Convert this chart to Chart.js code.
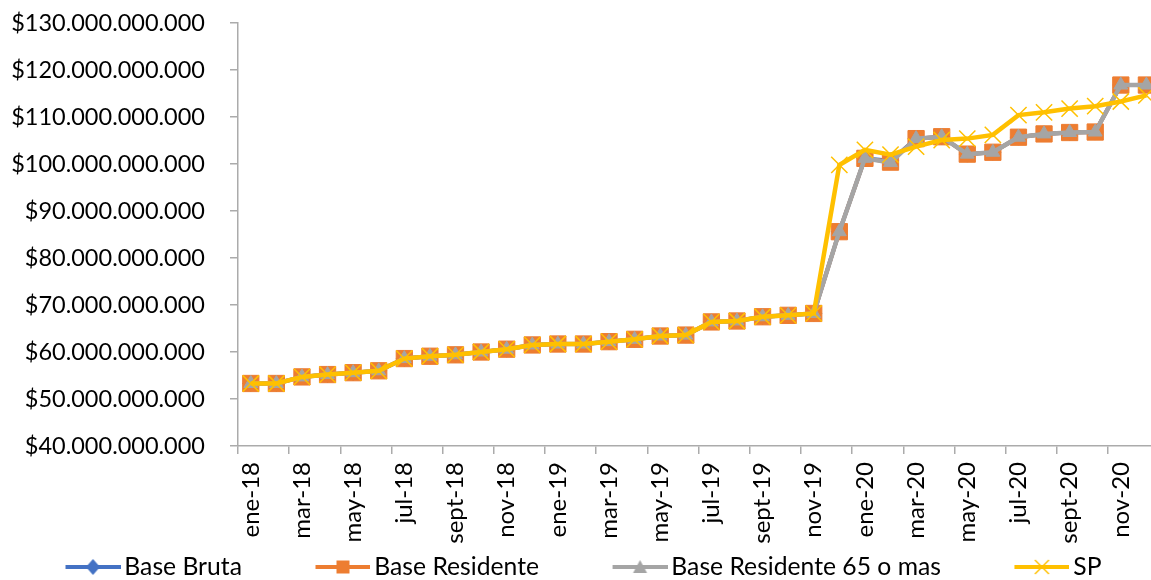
<!DOCTYPE html>
<html lang="es">
<head>
<meta charset="utf-8">
<title>Base Bruta / Base Residente / SP</title>
<script src="https://cdn.jsdelivr.net/npm/chart.js@4.4.1/dist/chart.umd.min.js"></script>
<style>
  html, body { margin: 0; padding: 0; background: #fff; overflow: hidden; }
  #wrap { width: 1151px; height: 580px; }
</style>
</head>
<body>
<div id="wrap"><canvas id="baseChart" width="1151" height="580"></canvas></div>
<script>
// meses del eje X (ene-18 a dic-20)
const MESES = [
    'ene-18', 'feb-18', 'mar-18', 'abr-18', 'may-18', 'jun-18', 'jul-18', 'ago-18', 'sept-18', 'oct-18', 'nov-18', 'dic-18',
    'ene-19', 'feb-19', 'mar-19', 'abr-19', 'may-19', 'jun-19', 'jul-19', 'ago-19', 'sept-19', 'oct-19', 'nov-19', 'dic-19',
    'ene-20', 'feb-20', 'mar-20', 'abr-20', 'may-20', 'jun-20', 'jul-20', 'ago-20', 'sept-20', 'oct-20', 'nov-20', 'dic-20'
];

// valores en miles de millones de pesos
const BASE_BRUTA = [
    53.3, 53.3, 54.7, 55.2, 55.6, 56.0, 58.6, 59.1, 59.4, 60.0, 60.6, 61.5,
    61.7, 61.7, 62.2, 62.7, 63.4, 63.6, 66.4, 66.6, 67.5, 67.8, 68.2, 85.6,
    101.2, 100.7, 105.4, 105.8, 102.1, 102.5, 105.7, 106.4, 106.7, 106.8, 116.8, 116.8
];
const BASE_RESIDENTE = [
    53.3, 53.3, 54.7, 55.2, 55.6, 56.0, 58.6, 59.1, 59.4, 60.0, 60.6, 61.5,
    61.7, 61.7, 62.2, 62.7, 63.4, 63.6, 66.4, 66.6, 67.5, 67.8, 68.2, 85.6,
    101.2, 100.4, 105.4, 105.8, 102.1, 102.5, 105.7, 106.4, 106.7, 106.8, 116.8, 116.8
];
const BASE_RES_65 = [
    53.3, 53.3, 54.7, 55.2, 55.6, 56.0, 58.6, 59.1, 59.4, 60.0, 60.6, 61.5,
    61.7, 61.7, 62.2, 62.7, 63.4, 63.6, 66.4, 66.6, 67.5, 67.8, 68.2, 85.6,
    101.2, 100.3, 105.4, 105.8, 102.1, 102.5, 105.7, 106.4, 106.7, 106.8, 116.8, 116.8
];
const SP = [
    53.3, 53.3, 54.7, 55.2, 55.6, 56.0, 58.6, 59.1, 59.4, 60.0, 60.6, 61.5,
    61.7, 61.7, 62.2, 62.7, 63.4, 63.6, 66.4, 66.6, 67.5, 67.8, 68.2, 99.8,
    103.0, 102.0, 103.7, 105.1, 105.4, 106.2, 110.4, 111.0, 111.8, 112.3, 113.3, 114.6
];

// eje Y (miles de millones)
const Y_MIN = 40;
const Y_MAX = 130;
const Y_PASO = 10;

const COLORES = ['#4472C4', '#ED7D31', '#A5A5A5', '#FFC000'];
const FUENTE = 'Lato';
const EJE_COLOR = '#ABABAB';

// $130.000.000.000
function formatoPesos(v) {
    return '$' + Math.round(v * 1e9).toString().replace(/\B(?=(\d{3})+(?!\d))/g, '.');
}

function puntos(serie) {
    return serie.map((v, i) => ({ x: i, y: v }));
}

// icono de leyenda: línea + marcador, como en Excel
function iconoLeyenda(color, estilo, ancho) {
    const c = document.createElement('canvas');
    c.width = ancho;
    c.height = 22;
    const g = c.getContext('2d');
    const x1 = ancho - 55, cx = ancho - 27.5, cy = 11;
    g.strokeStyle = color;
    g.fillStyle = color;
    g.lineWidth = 4;
    g.beginPath();
    g.moveTo(x1, cy);
    g.lineTo(ancho, cy);
    g.stroke();
    g.beginPath();
    if (estilo === 'rombo') {
        g.moveTo(cx, cy - 8); g.lineTo(cx + 7, cy); g.lineTo(cx, cy + 8); g.lineTo(cx - 7, cy);
        g.closePath(); g.fill();
    } else if (estilo === 'cuadro') {
        g.rect(cx - 6.5, cy - 6.5, 13, 13); g.fill();
    } else if (estilo === 'triangulo') {
        g.moveTo(cx, cy - 7); g.lineTo(cx + 7, cy + 6); g.lineTo(cx - 7, cy + 6);
        g.closePath(); g.fill();
    } else {
        g.lineWidth = 1.5;
        g.moveTo(cx - 7, cy - 7); g.lineTo(cx + 7, cy + 7);
        g.moveTo(cx + 7, cy - 7); g.lineTo(cx - 7, cy + 7);
        g.stroke();
    }
    return c;
}

// leyenda alineada a la izquierda (el lienzo empieza en -8 para que cuadre)
const IZQ = -8;
const LEY_FONT = 24.7;
const LEY_PAD = 24;
const ANCHO_CAJA = 96;
const LEY_ALTO = 13 + LEY_PAD + LEY_FONT / 2;
const ICONOS = COLORES.map((c, i) =>
    iconoLeyenda(c, ['rombo', 'cuadro', 'triangulo', 'x'][i], Math.round(ANCHO_CAJA + LEY_FONT - 8)));

// sin relleno extra por las etiquetas (Excel no lo deja)
function sinPadding(scale) {
    scale._calculatePadding = function () {
        this.paddingLeft = 0;
        this.paddingRight = 0;
        this.paddingTop = 0;
        this.paddingBottom = 0;
    };
}

// las etiquetas giradas bajan hasta casi la leyenda: no recortarlas
const sinRecorte = {
    id: 'sinRecorte',
    afterLayout(chart) {
        chart.scales.x.bottom = chart.height;
    }
};

const ctx = document.getElementById('baseChart').getContext('2d');
const baseChart = new Chart(ctx, {
    type: 'line',
    plugins: [sinRecorte],
    data: {
        datasets: [{
            label: 'Base Bruta',
            data: puntos(BASE_BRUTA),
            borderColor: COLORES[0],
            backgroundColor: COLORES[0],
            borderWidth: 4,
            pointStyle: 'rectRot',
            pointRadius: 8,
            pointBorderWidth: 1,
            order: 3
        }, {
            label: 'Base Residente',
            data: puntos(BASE_RESIDENTE),
            borderColor: COLORES[1],
            backgroundColor: COLORES[1],
            borderWidth: 4,
            pointStyle: 'rect',
            pointRadius: 11.5,
            pointBorderWidth: 1,
            order: 2
        }, {
            label: 'Base Residente 65 o mas',
            data: puntos(BASE_RES_65),
            borderColor: COLORES[2],
            backgroundColor: COLORES[2],
            borderWidth: 4.5,
            pointStyle: 'triangle',
            pointRadius: 8,
            pointBorderWidth: 1,
            order: 1
        }, {
            label: 'SP',
            data: puntos(SP),
            borderColor: COLORES[3],
            backgroundColor: COLORES[3],
            borderWidth: 4.5,
            pointStyle: 'crossRot',
            pointRadius: 11.5,
            pointBorderWidth: 1.5,
            order: 0
        }]
    },
    options: {
        responsive: false,
        animation: false,
        clip: false,
        layout: { autoPadding: false, padding: { top: 23, left: IZQ, right: 0, bottom: 0 } },
        elements: { line: { tension: 0 } },
        plugins: {
            tooltip: { enabled: false },
            legend: {
                position: 'bottom',
                align: 'start',
                reverse: true,
                maxHeight: LEY_ALTO,
                labels: {
                    usePointStyle: true,
                    pointStyleWidth: ANCHO_CAJA,
                    padding: LEY_PAD,
                    color: '#000',
                    font: { family: FUENTE, size: LEY_FONT },
                    generateLabels(chart) {
                        const items = Chart.defaults.plugins.legend.labels.generateLabels(chart);
                        items.forEach(it => { it.pointStyle = ICONOS[it.datasetIndex]; });
                        return items;
                    }
                }
            }
        },
        scales: {
            x: {
                type: 'linear',
                min: -0.5,
                max: 35.18,
                beforeFit: sinPadding,
                afterBuildTicks(scale) {
                    scale.ticks = MESES.map((m, i) => ({ value: i }));
                },
                afterFit(scale) {
                    scale.height = 580 - 446 - LEY_ALTO;
                },
                grid: {
                    offset: true,
                    drawOnChartArea: false,
                    drawTicks: true,
                    tickLength: 8,
                    lineWidth: 1.5,
                    tickColor: (c) => (c.index !== undefined && c.index % 2 === 0) ? EJE_COLOR : 'rgba(0,0,0,0)'
                },
                border: { display: true, color: EJE_COLOR, width: 1.5 },
                ticks: {
                    autoSkip: false,
                    minRotation: 90,
                    maxRotation: 90,
                    padding: 8,
                    color: '#000',
                    font: { family: FUENTE, size: 24 },
                    callback: (value, index) => (index % 2 === 0 ? MESES[index] : '')
                }
            },
            y: {
                min: Y_MIN,
                max: Y_MAX,
                beforeFit: sinPadding,
                afterFit(scale) {
                    scale.width = 238 - IZQ;
                },
                grid: {
                    drawOnChartArea: false,
                    drawTicks: true,
                    tickLength: 8,
                    lineWidth: 1.5,
                    tickColor: EJE_COLOR
                },
                border: { display: true, color: EJE_COLOR, width: 1.5 },
                ticks: {
                    stepSize: Y_PASO,
                    padding: 25,
                    color: '#000',
                    font: { family: FUENTE, size: 23.5 },
                    callback: (v) => formatoPesos(v)
                }
            }
        }
    }
});
</script>
</body>
</html>
